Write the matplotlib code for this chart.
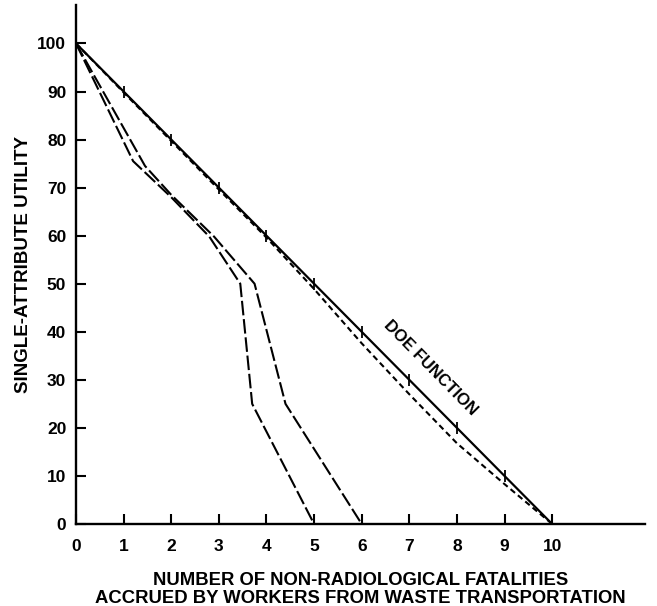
import matplotlib
matplotlib.use("Agg")
import matplotlib.pyplot as plt

# ---- data ----
doe_x = [0, 1, 2, 3, 4, 5, 6, 7, 8, 9, 10]
doe_y = [100, 90, 80, 70, 60, 50, 40, 30, 20, 10, 0]

short_dash_x = [0, 1, 2, 3, 4, 5, 6, 7, 8, 9, 10]
short_dash_y = [100, 89.8, 79.7, 69.6, 59.6, 48.9, 37.6, 27.0, 16.8, 8.3, 0]

left_x = [0, 1.2, 2.0, 2.8, 3.45, 3.7, 5.0]
left_y = [100, 75.5, 68, 59.8, 50, 25, 0]

right_x = [0, 1.45, 2.0, 2.9, 3.75, 4.4, 6.0]
right_y = [100, 74.5, 68.5, 59.8, 50, 25, 0]

x_ticks = [0, 1, 2, 3, 4, 5, 6, 7, 8, 9, 10]
y_ticks = [0, 10, 20, 30, 40, 50, 60, 70, 80, 90, 100]

label_font = ["Liberation Sans", "DejaVu Sans"]
plt.rcParams["font.family"] = label_font

fig = plt.figure(figsize=(6.57, 6.06), dpi=100)
ax = fig.add_axes([76 / 657, 82 / 606, (645 - 76) / 657, (524 - 5) / 606])

lw = 1.6
ax.plot(doe_x, doe_y, color="black", lw=lw, solid_capstyle="butt")
ax.plot(doe_x[1:-1], doe_y[1:-1], linestyle="none", marker="|",
        markersize=8, markeredgewidth=1.3, color="black")
ax.plot(short_dash_x, short_dash_y, color="black", lw=1.5,
        dashes=(2.8, 1.8))
ax.plot(left_x, left_y, color="black", lw=1.5, dashes=(7, 1.8))
ax.plot(right_x, right_y, color="black", lw=1.5, dashes=(7, 1.8))

ax.set_xlim(0, 11.95)
ax.set_ylim(0, 108)
ax.spines["top"].set_visible(False)
ax.spines["right"].set_visible(False)
ax.spines["left"].set_linewidth(1.7)
ax.spines["bottom"].set_linewidth(1.7)

ax.set_xticks(x_ticks)
ax.set_yticks(y_ticks)
ax.set_xticklabels([str(v) for v in x_ticks])
ax.set_yticklabels([str(v) for v in y_ticks])
ax.tick_params(direction="in", length=7, width=1.5, labelsize=12.5)
ax.tick_params(axis="x", pad=11)
ax.tick_params(axis="y", pad=7)
for lab in ax.get_xticklabels() + ax.get_yticklabels():
    lab.set_fontweight("bold")

ax.set_xlabel("NUMBER OF NON-RADIOLOGICAL FATALITIES\nACCRUED BY WORKERS FROM WASTE TRANSPORTATION",
              fontsize=13.3, fontweight="bold", linespacing=1.02, labelpad=13)
ax.set_ylabel("SINGLE-ATTRIBUTE UTILITY", fontsize=13.5, fontweight="bold", labelpad=4)

ax.text(7.45, 32.5, "DOE FUNCTION", rotation=-45.5, rotation_mode="anchor",
        ha="center", va="center", fontsize=12, fontweight="bold")

fig.savefig("out.png", dpi=100)
